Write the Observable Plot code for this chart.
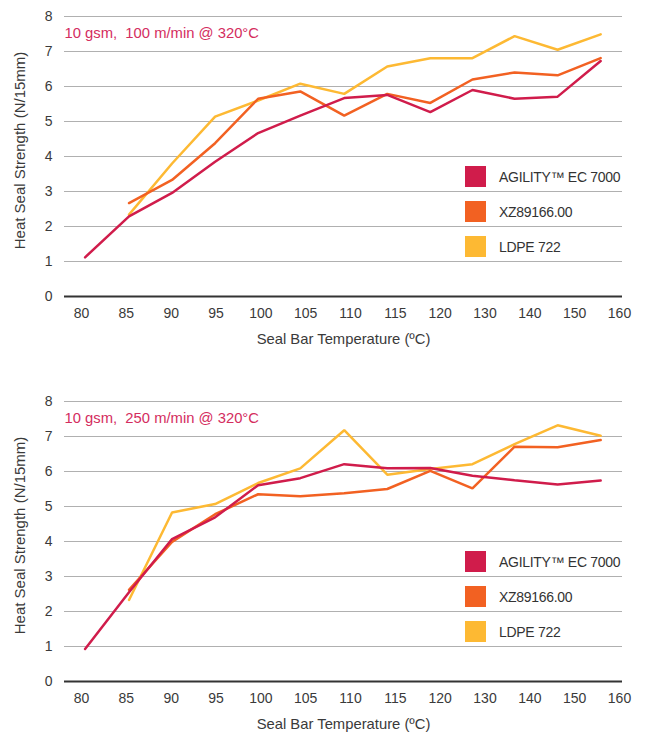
<!DOCTYPE html>
<html><head><meta charset="utf-8">
<script src="https://cdn.jsdelivr.net/npm/d3@7"></script>
<script src="https://cdn.jsdelivr.net/npm/@observablehq/plot@0.6"></script>
<style>
body{margin:0;background:#fff;overflow:hidden;font-family:"Liberation Sans",Arial,sans-serif;}
.chart{position:relative;width:649px;}
.chart svg{display:block;}
.legend{position:absolute;left:465px;top:166px;}
.legend .row{position:relative;height:35px;width:180px;}
.legend .sw{position:absolute;left:0;top:0;width:21px;height:21px;}
.legend .lab{position:absolute;left:34px;top:11px;transform:translateY(-50%);font-size:14px;color:#333;white-space:nowrap;letter-spacing:-0.3px;}
</style></head><body><div id="root"></div>
<script>
// ---- data ----
const temperatureTicks = [80, 85, 90, 95, 100, 105, 110, 115, 120, 130, 140, 150, 160];
const strengthTicks = [0, 1, 2, 3, 4, 5, 6, 7, 8];
const gridTicks = [1, 2, 3, 4, 5, 6, 7, 8];
const sampleTemps = [80.4, 85.3, 90.1, 94.9, 99.7, 104.4, 109.3, 114.1, 118.9, 127.2, 136.6, 146.2, 155.8];
const seriesNames = ["AGILITY™ EC 7000", "XZ89166.00", "LDPE 722"];
const seriesColors = ["#d01c4b", "#f26122", "#fdb933"];
const titles = ["10 gsm,\u00a0 100 m/min @ 320°C", "10 gsm,\u00a0 250 m/min @ 320°C"];
const xLabel = "Seal Bar Temperature (ºC)";
const yLabel = "Heat Seal Strength (N/15mm)";

// 100 m/min
const agility100 = [1.12, 2.29, 2.96, 3.85, 4.67, 5.17, 5.67, 5.76, 5.27, 5.9, 5.65, 5.71, 6.73];
const xz100 = [null, 2.67, 3.33, 4.38, 5.65, 5.86, 5.17, 5.79, 5.53, 6.2, 6.4, 6.32, 6.81];
const ldpe100 = [null, 2.34, 3.8, 5.14, 5.6, 6.08, 5.79, 6.57, 6.81, 6.81, 7.44, 7.05, 7.49];
// 250 m/min
const agility250 = [0.93, 2.55, 4.07, 4.69, 5.61, 5.81, 6.21, 6.09, 6.1, 5.88, 5.75, 5.63, 5.74];
const xz250 = [null, 2.62, 3.99, 4.78, 5.35, 5.29, 5.38, 5.5, 6.02, 5.52, 6.71, 6.69, 6.9];
const ldpe250 = [null, 2.33, 4.83, 5.07, 5.67, 6.09, 7.18, 5.91, 6.07, 6.21, 6.78, 7.32, 7.02];

const panels = [
  {title: titles[0], series: [agility100, xz100, ldpe100], height: 385, marginBottom: 89},
  {title: titles[1], series: [agility250, xz250, ldpe250], height: 348, marginBottom: 52}
];

function rows(values) {
  return values.map((v, i) => ({t: sampleTemps[i], v})).filter(d => d.v != null);
}

const root = document.getElementById("root");
for (const p of panels) {
  const div = document.createElement("div");
  div.className = "chart";
  div.style.height = p.height + "px";
  const lineMarks = [2, 1, 0].map(k =>
    Plot.line(rows(p.series[k]), {x: "t", y: "v", stroke: seriesColors[k], strokeWidth: 2.5, strokeLinejoin: "miter"})
  );
  const chart = Plot.plot({
    width: 649,
    height: p.height,
    marginLeft: 64,
    marginRight: 27,
    marginTop: 16,
    marginBottom: p.marginBottom,
    style: {fontFamily: "'Liberation Sans', Arial, sans-serif", fontSize: "14px", color: "#3a3a3a", background: "white", overflow: "visible"},
    x: {type: "linear", domain: temperatureTicks, insetLeft: 17, insetRight: 3, ticks: temperatureTicks, tickFormat: d => String(d), tickSize: 0, tickPadding: 12, label: null},
    y: {domain: [0, 8], ticks: strengthTicks, tickSize: 0, tickPadding: 12, label: null},
    marks: [
      Plot.ruleY(gridTicks, {stroke: "#b0b0b0", strokeWidth: 1.2}),
      Plot.ruleY([0], {stroke: "#333", strokeWidth: 1.8}),
      ...lineMarks,
      Plot.text([p.title], {text: d => d, frameAnchor: "top-left", dy: 17, textAnchor: "start", lineAnchor: "middle", fill: "#d42d5e", fontSize: 14.8}),
      Plot.text([xLabel], {text: d => d, frameAnchor: "bottom", dy: 43, lineAnchor: "middle", fill: "#3a3a3a", fontSize: 14.8}),
      Plot.text([yLabel], {text: d => d, frameAnchor: "left", dx: -44, dy: -6, rotate: -90, textAnchor: "middle", lineAnchor: "middle", fill: "#3a3a3a", fontSize: 15})
    ]
  });
  div.appendChild(chart);
  const legend = document.createElement("div");
  legend.className = "legend";
  seriesNames.forEach((name, k) => {
    const row = document.createElement("div");
    row.className = "row";
    const sw = document.createElement("div");
    sw.className = "sw";
    sw.style.background = seriesColors[k];
    const lab = document.createElement("div");
    lab.className = "lab";
    lab.textContent = name;
    row.appendChild(sw);
    row.appendChild(lab);
    legend.appendChild(row);
  });
  div.appendChild(legend);
  root.appendChild(div);
}
</script>
</body></html>
